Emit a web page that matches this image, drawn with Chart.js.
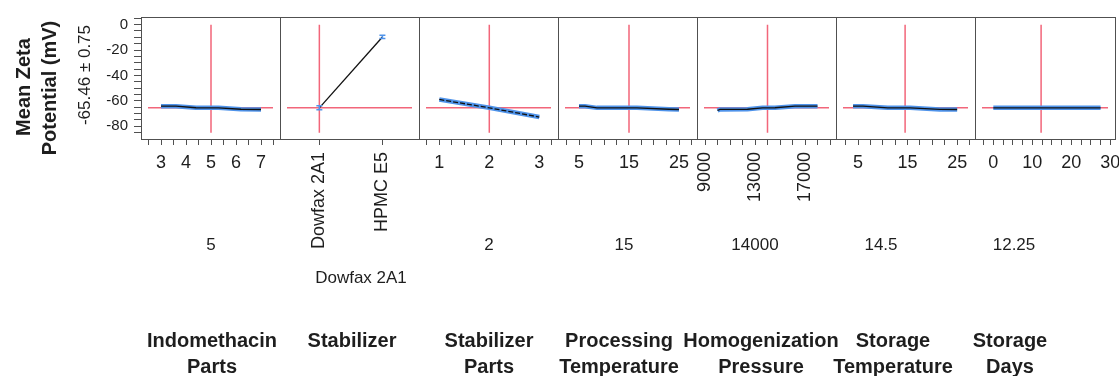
<!DOCTYPE html>
<html>
<head>
<meta charset="utf-8">
<script src="https://cdn.jsdelivr.net/npm/chart.js@4.4.1/dist/chart.umd.min.js"></script>
<style>
  body { margin: 0; background: #fff; }
  #wrap { position: relative; width: 1119px; height: 376px; overflow: hidden; font-family: "Liberation Sans", Arial, sans-serif; color: #1e1e1e; }
  #wrap canvas { position: absolute; top: 0; }
  .lbl { position: absolute; white-space: nowrap; transform: translate(-50%, -50%); }
  .rot { transform: translate(-50%, -50%) rotate(-90deg); }
  .bold { font-weight: bold; font-size: 20px; }
  .val { font-size: 17px; }
  .factor { position: absolute; top: 327px; transform: translateX(-50%); text-align: center; font-weight: bold; font-size: 20px; line-height: 26px; white-space: nowrap; }
</style>
</head>
<body>
<div id="wrap"></div>
<script>
// Prediction profiler for mean zeta potential
const predicted = -65.46;
const predictedCI = 0.75;
const yMarks = [5, 0, -5, -10, -15, -20, -25, -30, -35, -40, -45, -50, -55, -60, -65, -70, -75, -80, -85];
const yLabels = [0, -20, -40, -60, -80];

const factorNames = [
  ["Indomethacin", "Parts"],
  ["Stabilizer"],
  ["Stabilizer", "Parts"],
  ["Processing", "Temperature"],
  ["Homogenization", "Pressure"],
  ["Storage", "Temperature"],
  ["Storage", "Days"]
];
const currentText = ["5", "Dowfax 2A1", "2", "15", "14000", "14.5", "12.25"];
const currentValues = [5, 0, 2, 15, 14000, 14.5, 12.25];

// profile traces
const indoX = [3, 3.6, 4.4, 5.3, 6.2, 7];
const indoY = [-64.2, -64.2, -65.4, -65.5, -66.6, -66.8];
const stabCats = ["Dowfax 2A1", "HPMC E5"];
const stabY = [-65.46, -9.7];
const stabErr = [1.6, 1.3];
const stabPartsX = [1, 2, 3];
const stabPartsY = [-58.9, -65.46, -72.7];
const procTempX = [5, 6.2, 8.6, 16.6, 23, 25];
const procTempY = [-64.2, -64.2, -65.5, -65.5, -66.6, -66.8];
const pressureX = [10000, 10200, 12400, 13600, 14600, 16200, 18000];
const pressureY = [-67.6, -66.7, -66.6, -65.5, -65.4, -64.2, -64.2];
const storTempX = [4, 6, 11, 15.5, 21.5, 25];
const storTempY = [-64.2, -64.2, -65.5, -65.5, -66.7, -66.8];
const daysX = [0, 27.5];
const daysY = [-65.46, -65.46];

// x tick marks and labelled ticks
const indoMarks = [2.5, 3, 3.5, 4, 4.5, 5, 5.5, 6, 6.5, 7, 7.5];
const indoLabels = [3, 4, 5, 6, 7];
const stabPartsMarks = [0.75, 1, 1.25, 1.5, 1.75, 2, 2.25, 2.5, 2.75, 3, 3.25];
const stabPartsLabels = [1, 2, 3];
const tempMarks = [2.5, 5, 7.5, 10, 12.5, 15, 17.5, 20, 22.5, 25, 27.5];
const tempLabels = [5, 15, 25];
const pressureMarks = [9000, 10000, 11000, 12000, 13000, 14000, 15000, 16000, 17000, 18000, 19000];
const pressureLabels = [9000, 13000, 17000];
const daysMarks = [-2.5, 0, 2.5, 5, 7.5, 10, 12.5, 15, 17.5, 20, 22.5, 25, 27.5, 30];
const daysLabels = [0, 10, 20, 30];

const FONT = '"Liberation Sans", Arial, sans-serif';
const RED = '#f2667a';
const BLUE = '#4f93ea';
const FRAME = '#505050';
const edges = [141, 280, 419, 558, 697, 836, 975, 1115];
const plotTop = 17, plotBottom = 139, H = 376, SIDE = 24, Y_AXIS_W = 42;

const pts = (xs, ys) => xs.map((x, i) => ({ x: x, y: ys[i] }));
const stabIdx = stabCats.map((c, i) => i);

const profiles = [
  { xs: indoX, ys: indoY, range: [2.2, 7.76], marks: indoMarks, label: v => indoLabels.includes(v) ? String(v) : '' },
  { xs: stabIdx, ys: stabY, range: [-0.624, 1.58], marks: stabIdx, label: v => stabCats[v], rotate: true, errs: stabErr, noBand: true },
  { xs: stabPartsX, ys: stabPartsY, range: [0.594, 3.374], marks: stabPartsMarks, label: v => stabPartsLabels.includes(v) ? String(v) : '', dash: [5, 2] },
  { xs: procTempX, ys: procTempY, range: [0.8, 28.6], marks: tempMarks, label: v => tempLabels.includes(v) ? String(v) : '' },
  { xs: pressureX, ys: pressureY, range: [8360, 19480], marks: pressureMarks, label: v => pressureLabels.includes(v) ? String(v) : '', rotate: true },
  { xs: storTempX, ys: storTempY, range: [0.56, 28.6], marks: tempMarks, label: v => tempLabels.includes(v) ? String(v) : '' },
  { xs: daysX, ys: daysY, range: [-4.7, 31.2], marks: daysMarks, label: v => daysLabels.includes(v) ? String(v) : '' }
];

// frame, red crosshair and error bars
const profilerPlugin = {
  id: 'profiler',
  beforeDatasetsDraw(chart, args, opts) {
    const { ctx, chartArea: a, scales } = chart;
    const yp = scales.y.getPixelForValue(opts.yValue);
    const xp = scales.x.getPixelForValue(opts.xValue);
    ctx.save();
    ctx.strokeStyle = RED;
    ctx.lineWidth = 1.5;
    ctx.beginPath();
    ctx.moveTo(a.left + 7, yp);
    ctx.lineTo(a.right - 7, yp);
    ctx.moveTo(xp, scales.y.getPixelForValue(0));
    ctx.lineTo(xp, scales.y.getPixelForValue(-85));
    ctx.stroke();
    ctx.restore();
  },
  afterDatasetsDraw(chart, args, opts) {
    const { ctx, chartArea: a, scales } = chart;
    ctx.save();
    if (opts.errs) {
      ctx.strokeStyle = BLUE;
      ctx.lineWidth = 1.5;
      opts.xs.forEach((x, i) => {
        const px = scales.x.getPixelForValue(x);
        const lo = scales.y.getPixelForValue(opts.ys[i] - opts.errs[i]);
        const hi = scales.y.getPixelForValue(opts.ys[i] + opts.errs[i]);
        ctx.beginPath();
        ctx.moveTo(px, lo); ctx.lineTo(px, hi);
        ctx.moveTo(px - 3, lo); ctx.lineTo(px + 3, lo);
        ctx.moveTo(px - 3, hi); ctx.lineTo(px + 3, hi);
        ctx.stroke();
      });
    }
    ctx.strokeStyle = FRAME;
    ctx.lineWidth = 1;
    const l = Math.round(a.left) + 0.5, r = Math.round(a.right) + 0.5;
    const t = Math.round(a.top) + 0.5, b = Math.round(a.bottom) + 0.5;
    ctx.strokeRect(l, t, r - l, b - t);
    ctx.restore();
  }
};

const wrap = document.getElementById('wrap');

profiles.forEach((p, i) => {
  const first = i === 0;
  const left = first ? 0 : edges[i] - SIDE;
  const width = edges[i + 1] + SIDE - left;
  const cv = document.createElement('canvas');
  cv.width = width;
  cv.height = H;
  cv.style.left = left + 'px';
  cv.style.width = width + 'px';
  cv.style.height = H + 'px';
  wrap.appendChild(cv);

  const datasets = [{
    data: pts(p.xs, p.ys),
    borderColor: '#111',
    borderWidth: 1.3,
    borderDash: p.dash || [],
    pointRadius: 0
  }];
  if (!p.noBand) {
    datasets.push({ data: pts(p.xs, p.ys), borderColor: BLUE, borderWidth: 4.5, pointRadius: 0 });
  }

  new Chart(cv, {
    type: 'line',
    data: { datasets },
    options: {
      responsive: false,
      devicePixelRatio: 1,
      animation: false,
      layout: { padding: { left: first ? edges[0] - Y_AXIS_W : SIDE, right: SIDE, top: plotTop, bottom: 0 } },
      scales: {
        x: {
          type: 'linear',
          min: p.range[0],
          max: p.range[1],
          afterBuildTicks: s => { s.ticks = p.marks.map(v => ({ value: v })); },
          afterFit: s => { s.height = H - plotBottom; s.paddingLeft = 0; s.paddingRight = 0; },
          ticks: {
            autoSkip: false,
            minRotation: p.rotate ? 90 : 0,
            maxRotation: p.rotate ? 90 : 0,
            padding: 7,
            color: '#1e1e1e',
            font: { family: FONT, size: 18 },
            callback: v => p.label(v)
          },
          grid: { drawOnChartArea: false, drawTicks: true, tickLength: 6, color: FRAME },
          border: { display: false }
        },
        y: {
          display: first,
          min: -90,
          max: 6,
          afterBuildTicks: s => { s.ticks = yMarks.map(v => ({ value: v })); },
          afterFit: s => { s.width = first ? Y_AXIS_W : 0; s.paddingTop = 0; s.paddingBottom = 0; },
          ticks: {
            autoSkip: false,
            padding: 6,
            color: '#1e1e1e',
            font: { family: FONT, size: 15 },
            callback: v => yLabels.includes(v) ? String(v) : ''
          },
          grid: { drawOnChartArea: false, drawTicks: true, tickLength: 7, color: FRAME },
          border: { display: false }
        }
      },
      plugins: {
        legend: { display: false },
        tooltip: { enabled: false },
        profiler: { xValue: currentValues[i], yValue: predicted, errs: p.errs, xs: p.xs, ys: p.ys }
      }
    },
    plugins: [profilerPlugin]
  });
});

// response axis title
function addLabel(text, cls, x, y) {
  const d = document.createElement('div');
  d.className = 'lbl ' + cls;
  d.style.left = x + 'px';
  d.style.top = y + 'px';
  d.textContent = text;
  wrap.appendChild(d);
  return d;
}
addLabel('Mean Zeta', 'rot bold', 23, 87);
addLabel('Potential (mV)', 'rot bold', 49, 88);
addLabel(predicted.toFixed(2) + ' \u00b1 ' + predictedCI.toFixed(2), 'rot val', 85, 75);

// current factor settings
const currentPos = [[211, 245], [361, 278], [489, 245], [624, 245], [755, 245], [881, 245], [1014, 245]];
currentText.forEach((t, i) => addLabel(t, 'val', currentPos[i][0], currentPos[i][1]));

// factor names
const factorX = [212, 352, 489, 619, 761, 893, 1010];
factorNames.forEach((lines, i) => {
  const d = document.createElement('div');
  d.className = 'factor';
  d.style.left = factorX[i] + 'px';
  d.innerHTML = lines.join('<br>');
  wrap.appendChild(d);
});
</script>
</body>
</html>
